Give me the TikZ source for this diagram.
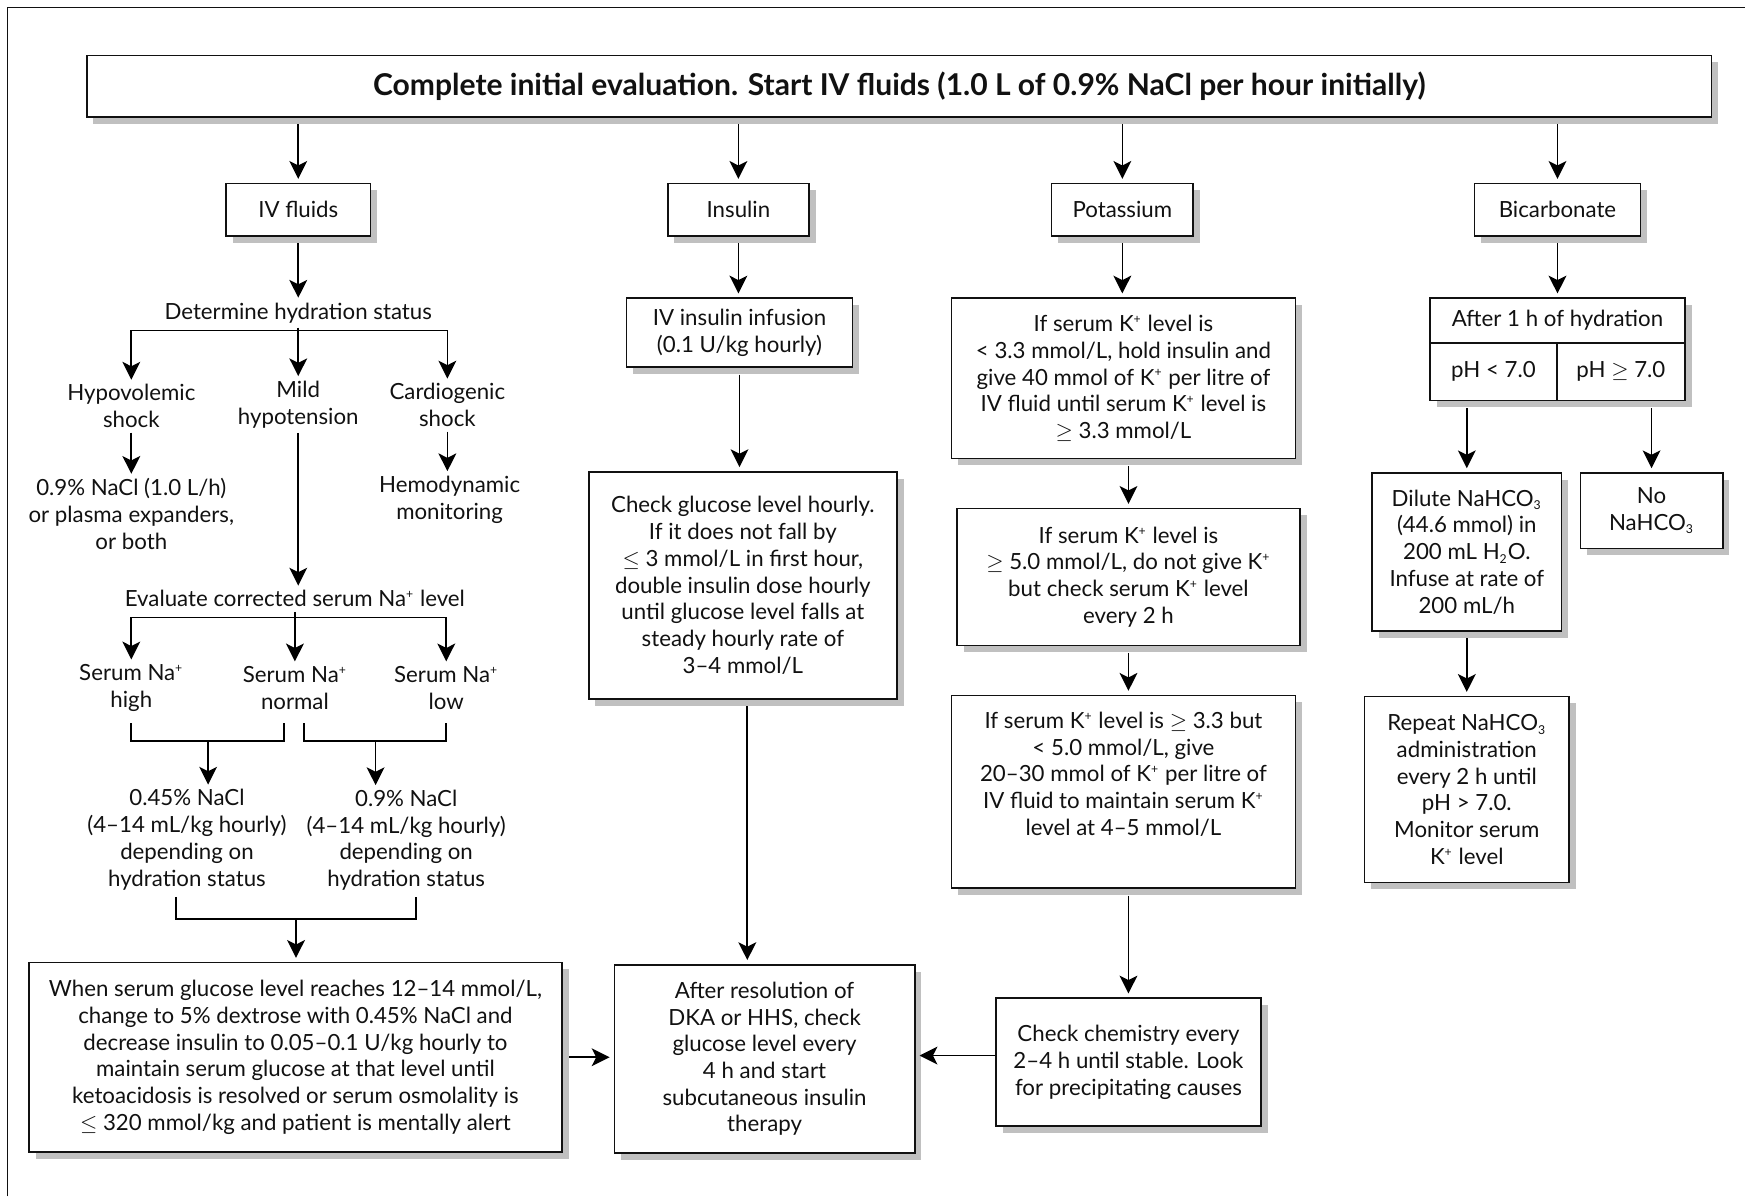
\documentclass[tikz,border=0pt]{standalone}
\usepackage{fontspec}
\setmainfont{Lato}
\usetikzlibrary{arrows.meta,shadows}
\definecolor{shad}{HTML}{C0C0C0}
\definecolor{ink}{HTML}{111111}
\newcommand{\tinysup}[1]{\textsuperscript{\fontsize{5.5}{6}\selectfont #1}}
\newcommand{\tinysub}[1]{\textsubscript{\fontsize{5.5}{6}\selectfont #1}}
\newcommand{\Kplus}{K\tinysup{+}}
\newcommand{\Naplus}{Na\tinysup{+}}
\begin{document}
\begin{tikzpicture}[x=0.5pt,y=-0.5pt,
  every node/.style={font=\fontsize{10}{12}\selectfont, text=ink},
  box/.style={draw=ink, line width=0.7pt, fill=white, align=center, inner sep=2pt,
    drop shadow={shadow xshift=3pt,shadow yshift=-3pt,fill=shad,opacity=1}},
  wh/.style 2 args={minimum width=#1pt, minimum height=#2pt},
  txt/.style={align=center, inner sep=2pt},
  ln/.style={draw=black, line width=0.75pt},
  arr/.style={draw=black, line width=0.75pt, -{Stealth[length=8pt,width=8pt,inset=2pt]}},
  frombox/.style={shorten <=3pt},
  tobox/.style={shorten >=1.8pt},
]
\useasboundingbox (0,0) rectangle (1568,1075);
\draw[draw=ink, line width=0.6pt] (7,1075) -- (7,7) -- (1568,7);

% title and categories
\node[box, wh={730}{27.5}, font=\fontsize{13.5}{16}\selectfont\bfseries] (title) at (808,77.5)
  {Complete initial evaluation. Start IV fluids (1.0 L of 0.9\% NaCl per hour initially)};
\node[box, wh={65}{23.5}] (ivf) at (268,188.5) {IV fluids};
\node[box, wh={63.5}{23.5}] (ins) at (663.5,188.5) {Insulin};
\node[box, wh={63.5}{23.5}] (pot) at (1008.5,188.5) {Potassium};
\node[box, wh={74.5}{23.5}] (bic) at (1399.5,188.5) {Bicarbonate};
\foreach \n in {ivf,ins,pot,bic}
  \draw[arr, frombox, tobox] (\n.north |- title.south) -- (\n.north);

% IV fluids column
\node[txt] (det) at (268,281) {Determine hydration status};
\node[txt] (hypo) at (118,365) {Hypovolemic\\shock};
\node[txt] (mild) at (268,363.5) {Mild\\hypotension};
\node[txt] (cardio) at (402,364) {Cardiogenic\\shock};
\node[txt] (nacl1) at (118,462) {0.9\% NaCl (1.0 L/h)\\or plasma expanders,\\or both};
\node[txt] (hemo) at (404,449) {Hemodynamic\\monitoring};
\node[txt] (evalna) at (265,538) {Evaluate corrected serum \Naplus{} level};
\node[txt] (nahigh) at (118,618) {Serum \Naplus\\high};
\node[txt] (nanorm) at (265,618) {Serum \Naplus\\normal};
\node[txt] (nalow) at (401,618) {Serum \Naplus\\low};
\node[txt] (nacl045) at (168,754.5) {0.45\% NaCl\\(4–14 mL/kg hourly)\\depending on\\hydration status};
\node[txt] (nacl09) at (365,755) {0.9\% NaCl\\(4–14 mL/kg hourly)\\depending on\\hydration status};
\node[box, wh={239.5}{85}] (when) at (265.5,950)
  {When serum glucose level reaches 12–14 mmol/L,\\change to 5\% dextrose with 0.45\% NaCl and\\decrease insulin to 0.05–0.1 U/kg hourly to\\maintain serum glucose at that level until\\ketoacidosis is resolved or serum osmolality is\\$\leq$ 320 mmol/kg and patient is mentally alert};

\draw[arr, frombox] (ivf.south) -- (ivf.south |- det.north);
\coordinate (j1) at (268,297);
\draw[ln] (det.south) -- (j1);
\draw[arr] (j1) -| (hypo.north);
\draw[arr] (j1) -- (mild.north);
\draw[arr] (j1) -| (cardio.north);
\draw[arr] (hypo.south) -- (hypo.south |- nacl1.north);
\draw[arr] (cardio.south) -- (cardio.south |- hemo.north);
\draw[arr] (mild.south) -- (mild.south |- evalna.north);
\coordinate (j2) at (265,555);
\draw[ln] (evalna.south) -- (j2);
\draw[arr] (j2) -| (nahigh.north);
\draw[arr] (j2) -- (nanorm.north);
\draw[arr] (j2) -| (nalow.north);
\coordinate (m1) at (187,666);
\coordinate (m2) at (337.5,666);
\coordinate (m3) at (266,826);
\draw[ln] (nahigh.south |- 0,650) -- (nahigh.south |- m1) -- (255,666) -- (255,650);
\draw[ln] (273,650) -- (273,666) -- (nalow.south |- m2) -- (nalow.south |- 0,650);
\draw[arr] (m1) -- (m1 |- nacl045.north);
\draw[arr] (m2) -- (m2 |- nacl09.north);
\draw[ln] (158,806) -- (158,826) -- (374,826) -- (374,806);
\draw[arr, tobox] (m3) -- (m3 |- when.north);

% Insulin column
\node[box, wh={101.5}{31}] (ivinf) at (664.5,299) {IV insulin infusion\\(0.1 U/kg hourly)};
\node[box, wh={138.5}{102}] (chk) at (667.5,526)
  {Check glucose level hourly.\\If it does not fall by\\$\leq$ 3 mmol/L in first hour,\\double insulin dose hourly\\until glucose level falls at\\steady hourly rate of\\3–4 mmol/L};
\node[box, wh={135}{84.5}] (after) at (687,951.5)
  {After resolution of\\DKA or HHS, check\\glucose level every\\4 h and start\\subcutaneous insulin\\therapy};
\draw[arr, frombox, tobox] (ins.south) -- (ins.south |- ivinf.north);
\draw[arr, frombox, tobox] (ivinf.south) -- (ivinf.south |- chk.north);
\draw[arr, frombox, tobox] ([xshift=2pt]chk.south) -- ([xshift=2pt]chk.south |- after.north);
\draw[arr, frombox, tobox] (when.east) -- (when.east -| after.west);

% Potassium column
\node[box, wh={154.5}{72}] (k1) at (1009.5,340)
  {If serum \Kplus{} level is\\< 3.3 mmol/L, hold insulin and\\give 40 mmol of \Kplus{} per litre of\\IV fluid until serum \Kplus{} level is\\$\geq$ 3.3 mmol/L};
\node[box, wh={154}{61.5}] (k2) at (1014,518.5)
  {If serum \Kplus{} level is\\$\geq$ 5.0 mmol/L, do not give \Kplus\\but check serum \Kplus{} level\\every 2 h};
\node[box, wh={154.5}{86.5}] (k3) at (1009.5,711.5) {};
\node[txt] (k3t) at (1009.5,695.5)
  {If serum \Kplus{} level is $\geq$ 3.3 but\\< 5.0 mmol/L, give\\20–30 mmol of \Kplus{} per litre of\\IV fluid to maintain serum \Kplus\\level at 4–5 mmol/L};
\node[box, wh={119}{57.5}] (k4) at (1014,954.5)
  {Check chemistry every\\2–4 h until stable. Look\\for precipitating causes};
\draw[arr, frombox, tobox] (pot.south) -- (pot.south |- k1.north);
\draw[arr, frombox, tobox] (k2.north |- k1.south) -- (k2.north);
\draw[arr, frombox, tobox] (k2.south) -- (k2.south |- k3.north);
\draw[arr, frombox, tobox] (k4.north |- k3.south) -- (k4.north);
\draw[arr, tobox] ([yshift=3pt]k4.west) -- ([yshift=3pt]k4.west -| after.east);

% Bicarbonate column
\node[box, wh={114.5}{20}] (h1) at (1399.5,288) {After 1 h of hydration};
\node[box, wh={57}{26}] (phlo) at (1342,334) {pH < 7.0};
\node[box, wh={57.5}{26}] (phhi) at (1456.5,334) {pH $\geq$ 7.0};
\node[box, wh={85}{71}] (dil) at (1318,496)
  {Dilute NaHCO\tinysub{3}\\(44.6 mmol) in\\200 mL H\tinysub{2}O.\\Infuse at rate of\\200 mL/h};
\node[box, wh={64}{34}] (nonahco) at (1484,459) {No\\NaHCO\tinysub{3}};
\node[box, wh={92}{83.5}] (rep) at (1318,709.5)
  {Repeat NaHCO\tinysub{3}\\administration\\every 2 h until\\pH > 7.0.\\Monitor serum\\\Kplus{} level};
\draw[arr, frombox, tobox] (bic.south) -- (bic.south |- h1.north);
\draw[arr, frombox, tobox] (dil.north |- phlo.south) -- (dil.north);
\draw[arr, frombox, tobox] (nonahco.north |- phhi.south) -- (nonahco.north);
\draw[arr, frombox, tobox] (dil.south) -- (dil.south |- rep.north);
\end{tikzpicture}
\end{document}
